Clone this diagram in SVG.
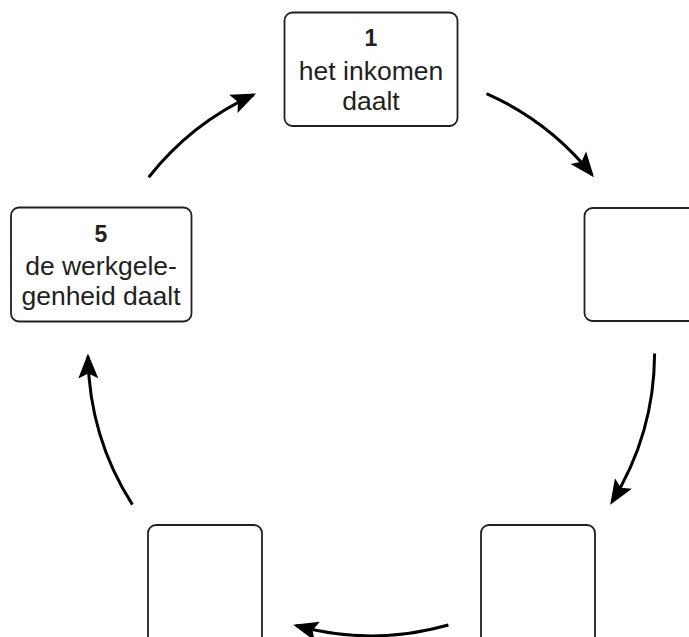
<svg xmlns="http://www.w3.org/2000/svg" width="689" height="637" viewBox="0 0 689 637">
<style>
.box{fill:#fff;stroke:#231f20;stroke-width:1.8}
.t{font-family:"Liberation Sans",Arial,sans-serif;font-size:26.5px;fill:#231f20;text-anchor:middle}
.n{font-family:"Liberation Sans",Arial,sans-serif;font-size:23px;font-weight:bold;fill:#231f20;text-anchor:middle}
.arc{fill:none;stroke:#000;stroke-width:3;marker-end:url(#ah)}
</style>
<defs>
<marker id="ah" markerUnits="userSpaceOnUse" markerWidth="26" markerHeight="22" refX="22" refY="10" orient="auto" overflow="visible">
<path d="M0,0 L25,10 L0,20 L5,10 Z" fill="#000"/>
</marker>
</defs>
<rect width="689" height="637" fill="#fff"/>
<g id="node1">
<rect class="box" x="284.5" y="12.5" width="173" height="113.5" rx="8"/>
<text class="n" x="371" y="46">1</text>
<text class="t" x="371" y="80">het inkomen</text>
<text class="t" x="371" y="110">daalt</text>
</g>
<g id="node2">
<rect class="box" x="584.5" y="208" width="130" height="113" rx="8"/>
</g>
<g id="node3">
<rect class="box" x="481" y="525" width="114" height="130" rx="8"/>
</g>
<g id="node4">
<rect class="box" x="148" y="525" width="114" height="130" rx="8"/>
</g>
<g id="node5">
<rect class="box" x="11" y="207.5" width="180.5" height="114" rx="8"/>
<text class="n" x="101" y="241.5">5</text>
<text class="t" x="101" y="274.5">de werkgele-</text>
<text class="t" x="101" y="304.5">genheid daalt</text>
</g>
<g id="connectors">
<path class="arc" d="M486.5,93.6 A283.3,283.3 0 0 1 592.1,174.9"/>
<path class="arc" d="M654.6,353.4 A283.3,283.3 0 0 1 611.8,502.1"/>
<path class="arc" d="M448.4,625 A283.3,283.3 0 0 1 296.1,625.5"/>
<path class="arc" d="M132.4,504.6 A283.3,283.3 0 0 1 88,356.4"/>
<path class="arc" d="M148.7,177.2 A283.3,283.3 0 0 1 253.4,94.8"/>
</g>
</svg>
